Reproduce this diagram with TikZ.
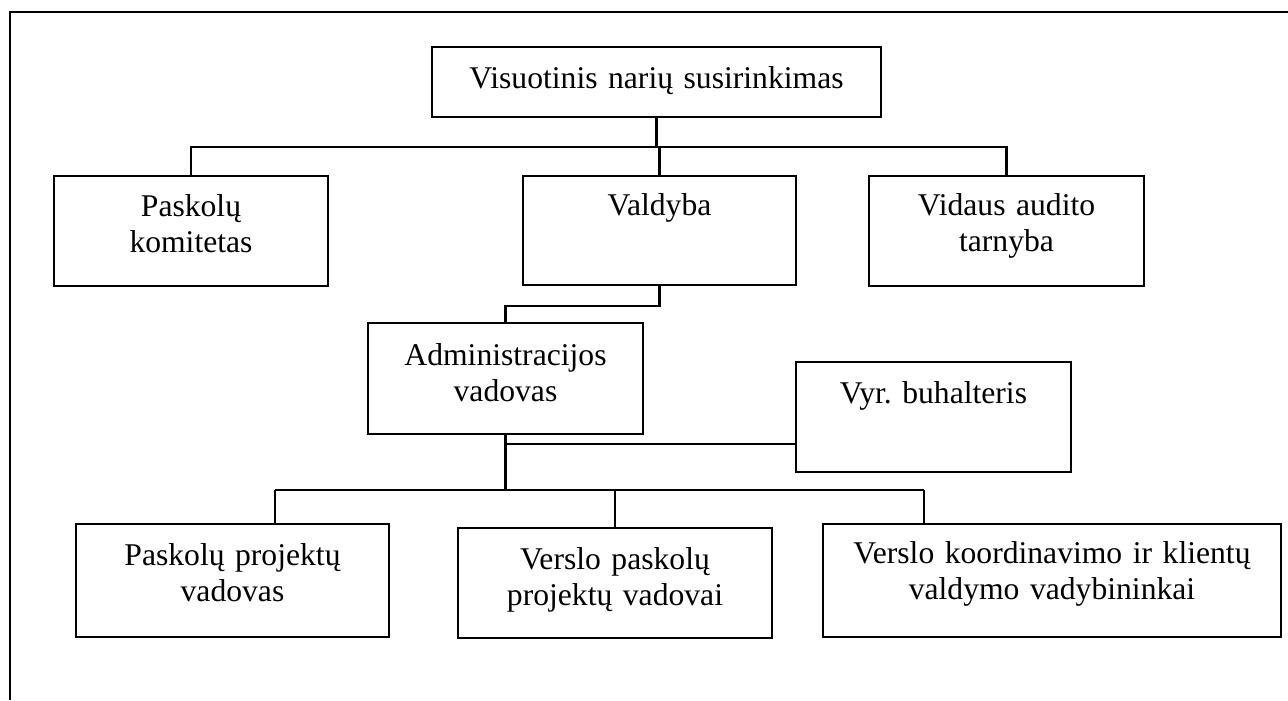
\documentclass[tikz,border=0pt]{standalone}
\usepackage{fontspec}
\setmainfont{Liberation Serif}
\usepackage{tikz}
\frenchspacing
\tikzset{
  orgbox/.style={draw, line width=1.2pt, inner sep=0pt, align=center, anchor=base,
    font=\fontsize{18}{20.7}\selectfont},
  orgline/.style={line width=1.2pt}
}

\begin{document}
\begin{tikzpicture}
  \useasboundingbox (0,0) rectangle (25.76,-14);
  \draw[orgline] (25.76,-0.24) -- (0.2,-0.24) -- (0.2,-14);
  \node[orgbox, text width=8.98cm, text height=0.82cm, text depth=0.58cm] (vns) at (13.13,-1.76) {Visuotinis narių susirinkimas};
  \node[orgbox, text width=5.48cm, text height=0.80cm, text depth=1.40cm] (pk) at (3.82,-4.32) {Paskolų\\komitetas};
  \node[orgbox, text width=5.46cm, text height=0.78cm, text depth=1.40cm] (valdyba) at (13.19,-4.30) {Valdyba};
  \node[orgbox, text width=5.50cm, text height=0.78cm, text depth=1.42cm] (vat) at (20.13,-4.30) {Vidaus audito\\tarnyba};
  \node[orgbox, text width=5.50cm, text height=0.84cm, text depth=1.38cm] (admin) at (10.11,-7.30) {Administracijos\\vadovas};
  \node[orgbox, text width=5.50cm, text height=0.82cm, text depth=1.38cm] (vyr) at (18.67,-8.06) {Vyr. buhalteris};
  \node[orgbox, text width=6.26cm, text height=0.82cm, text depth=1.44cm] (ppv) at (4.65,-11.30) {Paskolų projektų\\vadovas};
  \node[orgbox, text width=6.28cm, text height=0.82cm, text depth=1.38cm] (vpv) at (12.30,-11.38) {Verslo paskolų\\projektų vadovai};
  \node[orgbox, text width=9.16cm, text height=0.78cm, text depth=1.48cm] (vkv) at (21.04,-11.26) {Verslo koordinavimo ir klientų\\valdymo vadybininkai};
  \coordinate (busA) at (0,-2.94);
  \coordinate (busB) at (0,-6.12);
  \coordinate (busV) at (0,-8.88);
  \coordinate (dropL) at (5.50,-9.8);
  \coordinate (dropR) at (18.48,-9.8);
  \draw[orgline] (vns.south) -- (vns.south |- busA);
  \draw[orgline] (pk.north) |- (vat.north |- busA) -- (vat.north);
  \draw[orgline] (valdyba.north) -- (valdyba.north |- busA);
  \draw[orgline] (valdyba.south) |- (admin.north |- busB) -- (admin.north);
  \draw[orgline] (admin.south) -- (admin.south |- dropL);
  \draw[orgline] (admin.south |- busV) -- (vyr.west |- busV);
  \draw[orgline] (dropL) -- (dropR);
  \draw[orgline] (dropL) -- (dropL |- ppv.north);
  \draw[orgline] (vpv.north |- dropL) -- (vpv.north);
  \draw[orgline] (dropR) -- (dropR |- vkv.north);
\end{tikzpicture}
\end{document}
